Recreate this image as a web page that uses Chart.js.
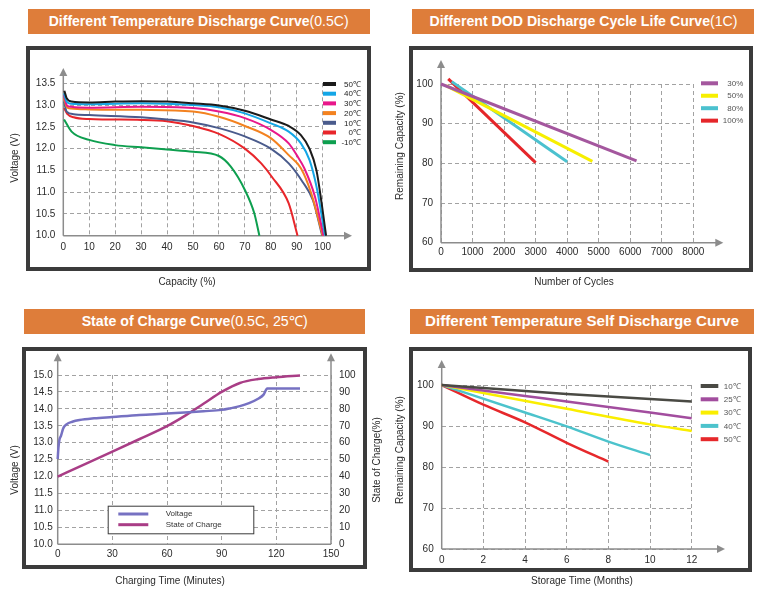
<!DOCTYPE html>
<html><head><meta charset="utf-8">
<script src="https://cdn.jsdelivr.net/npm/chart.js@4/dist/chart.umd.min.js"></script>
<style>
html,body{margin:0;padding:0;background:#fff;}
body{width:768px;height:599px;position:relative;overflow:hidden;font-family:"Liberation Sans",Arial,sans-serif;}
.bar{position:absolute;background:#de7d3a;color:#fff;font-weight:bold;font-size:14px;height:25px;line-height:25px;text-align:center;white-space:nowrap;overflow:hidden}
.bar span.t{display:inline-block;transform-origin:center center}
.bar span.n{font-weight:normal}
.frame{position:absolute;border:4px solid #3b3b3b;box-sizing:border-box;background:#fff}
.wrap{position:absolute}
.wrap canvas{display:block}
</style></head>
<body>
<div class="bar" style="left:28px;top:9px;width:342px" data-w="300"><span class="t">Different Temperature Discharge Curve<span class="n">(0.5C)</span></span></div>
<div class="bar" style="left:412px;top:9px;width:342px" data-w="308"><span class="t">Different DOD Discharge Cycle Life Curve<span class="n">(1C)</span></span></div>
<div class="bar" style="left:24px;top:309px;width:341px" data-w="226"><span class="t">State of Charge Curve<span class="n">(0.5C, 25℃)</span></span></div>
<div class="bar" style="left:410px;top:309px;width:344px" data-w="314"><span class="t">Different Temperature Self Discharge Curve</span></div>

<div class="frame" style="left:26px;top:46px;width:345px;height:225px"></div>
<div class="frame" style="left:409px;top:46px;width:344px;height:226px"></div>
<div class="frame" style="left:22px;top:347px;width:345px;height:222px"></div>
<div class="frame" style="left:409px;top:347px;width:343px;height:225px"></div>

<div class="wrap" style="left:0;top:40px;width:384px;height:260px"><canvas id="c1" width="384" height="260"></canvas></div>
<div class="wrap" style="left:384px;top:40px;width:384px;height:260px"><canvas id="c2" width="384" height="260"></canvas></div>
<div class="wrap" style="left:0;top:340px;width:384px;height:259px"><canvas id="c3" width="384" height="259"></canvas></div>
<div class="wrap" style="left:384px;top:340px;width:384px;height:259px"><canvas id="c4" width="384" height="259"></canvas></div>

<script>
// ---------- Panel 1: different temperature discharge (capacity %, voltage V)
const tempLabels1 = ['50℃','40℃','30℃','20℃','10℃','0℃','-10℃'];
const dis50 = [[0.4,13.33],[1.3,13.16],[3.2,13.08],[10,13.06],[20,13.08],[30,13.09],[40,13.08],[50,13.04],[60,12.99],[70,12.87],[80,12.67],[86.9,12.52],[91.6,12.31],[94.9,12.0],[97.6,11.5],[99.6,10.74],[101.3,10.0]];
const dis40 = [[0.3,13.27],[1.3,13.08],[3,13.03],[10,13.02],[30,13.04],[50,13.0],[60,12.95],[70,12.81],[80,12.58],[86.9,12.39],[91.6,12.12],[94.9,11.74],[97.6,11.13],[100.9,10.0]];
const dis30 = [[0.3,13.23],[1.3,13.0],[3,12.96],[10,12.94],[30,12.96],[50,12.93],[60,12.85],[70,12.7],[80,12.43],[86.9,12.12],[90,11.85],[92.9,11.55],[97,10.9],[100.3,10.0]];
const dis20 = [[0.3,13.16],[1.3,12.96],[3,12.92],[10,12.9],[30,12.89],[50,12.85],[60,12.73],[70,12.52],[80,12.24],[86.9,11.85],[91.6,11.55],[95.6,10.97],[100,10.0]];
const dis10 = [[0.3,13.08],[1.3,12.85],[4,12.79],[10,12.77],[30,12.72],[40,12.67],[50,12.6],[60,12.47],[70,12.28],[80,12.0],[86.9,11.66],[92.2,11.24],[96.2,10.82],[99.8,10.0]];
const dis0 = [[0.3,12.93],[1.5,12.8],[4,12.72],[10,12.68],[30,12.66],[40,12.63],[50,12.52],[60,12.34],[70,12.0],[76.3,11.66],[80.3,11.36],[86.9,10.74],[90.3,10.0]];
const disM10 = [[0.3,12.67],[3.2,12.39],[10,12.2],[20,12.08],[30,12.03],[40,11.98],[50,11.93],[60,11.83],[64.5,11.59],[70,11.05],[73.6,10.52],[75.6,10.0]];

// ---------- Panel 2: DOD cycle life (cycles, remaining capacity %)
const dodLabels = ['30%','50%','80%','100%'];
const dod30 = [[0,100],[6200,80.6]];
const dod50 = [[160,99.6],[4800,80.5]];
const dod80 = [[340,100.6],[4000,80.4]];
const dod100 = [[230,101.3],[3000,80.2]];

// ---------- Panel 3: state of charge (minutes, voltage V / SOC %)
const chgVoltage = [[0,12.52],[0.4,12.85],[1,13.1],[1.8,13.2],[3,13.42],[5,13.55],[8,13.62],[12,13.67],[20,13.72],[30,13.76],[45,13.82],[60,13.86],[72,13.9],[80,13.93],[90,13.97],[95,14.02],[100,14.08],[105,14.17],[110,14.3],[113,14.42],[115,14.6],[133,14.6]];
const chgSoc = [[0,40],[15,47.3],[30,54.7],[45,62.2],[60,69.8],[70,76],[80,83],[90,90],[100,95.3],[110,97.6],[120,98.7],[133,99.7]];

// ---------- Panel 4: self discharge (months, remaining capacity %)
const sdLabels = ['10℃','25℃','30℃','40℃','50℃'];
const sd10 = [[0,100],[6,97.8],[12,96.0]];
const sd25 = [[0,100],[4,97.3],[6,96.0],[12,91.9]];
const sd30 = [[0,100],[6,94.2],[10,90.4],[12,88.8]];
const sd40 = [[0,100],[4,93.3],[6,89.9],[8,86.2],[10,82.9]];
const sd50 = [[0,100],[2,95.2],[4,90.9],[6,85.9],[8,81.3]];

// ---------- title bars fitting
document.querySelectorAll('.bar').forEach(b=>{
  const s=b.querySelector('span.t'); const w=s.getBoundingClientRect().width;
  const tw=+b.dataset.w; s.style.transform='scaleX('+(tw/w).toFixed(3)+')';
});

Chart.defaults.font.family = "'Liberation Sans', Arial, Helvetica, sans-serif";
Chart.defaults.font.size = 10;
Chart.defaults.color = '#2b2b2b';

const AX = '#8c8c8c', GRID = '#a2a2a2';

function ds(label, pts, color, width, smooth, axis){
  const d = {label, data: pts.map(p=>({x:p[0],y:p[1]})), borderColor: color, backgroundColor: color,
    borderWidth: width, pointRadius: 0, fill: false, clip: false, tension: 0};
  if (smooth) d.cubicInterpolationMode = 'monotone';
  if (axis) d.yAxisID = axis;
  return d;
}
const plain = v => String(v);
function lin(min,max,step,pad,fit,title,fmt,extra){
  const s = {type:'linear', min, max,
    ticks:{stepSize:step, autoSkip:false, maxRotation:0, padding:pad, color:'#2b2b2b', font:{size:10}, callback: fmt || plain},
    grid:{color:GRID, lineWidth:1, drawTicks:false},
    border:{display:false, dash:[4,3]},
    title:{display:false, text:title},
    afterFit: fit};
  return Object.assign(s, extra||{});
}

function arrowUp(ctx,x,y){ctx.beginPath();ctx.moveTo(x,y);ctx.lineTo(x-4,y+8);ctx.lineTo(x+4,y+8);ctx.closePath();ctx.fill();}
function arrowRight(ctx,x,y){ctx.beginPath();ctx.moveTo(x,y);ctx.lineTo(x-8,y-4);ctx.lineTo(x-8,y+4);ctx.closePath();ctx.fill();}

const deco = {
  id:'deco',
  beforeDatasetsDraw(chart, args, o){
    const {ctx, chartArea:a} = chart;
    ctx.save();
    ctx.setLineDash([]);
    ctx.strokeStyle = AX; ctx.fillStyle = AX; ctx.lineWidth = 1.5;
    const L=a.left, B=a.bottom;
    ctx.beginPath(); ctx.moveTo(L,B); ctx.lineTo(L,a.top-o.yExt+7); ctx.stroke(); arrowUp(ctx,L,a.top-o.yExt);
    if (o.y2){ ctx.beginPath(); ctx.moveTo(a.right,B); ctx.lineTo(a.right,a.top-o.yExt+7); ctx.stroke(); arrowUp(ctx,a.right,a.top-o.yExt); }
    const xr = a.right + (o.xExt||0);
    ctx.beginPath(); ctx.moveTo(L,B); ctx.lineTo(o.xExt? xr-7 : xr, B); ctx.stroke();
    if (o.xExt) arrowRight(ctx,xr,B);
    ctx.restore();
  },
  afterDraw(chart, args, o){
    const {ctx} = chart;
    ctx.save();
    (o.titles||[]).forEach(t=>{
      const txt = chart.scales[t.scale].options.title.text;
      ctx.save(); ctx.translate(t.x,t.y); if (t.rot) ctx.rotate(t.rot);
      ctx.font = "10px 'Liberation Sans', Arial, sans-serif"; ctx.fillStyle = '#2b2b2b';
      ctx.textAlign='center'; ctx.textBaseline='middle'; ctx.fillText(txt,0,0); ctx.restore();
    });
    const lg = o.legend;
    if (lg && lg.type==='side'){
      ctx.font = "8px 'Liberation Sans', Arial, sans-serif"; ctx.textBaseline='middle'; ctx.textAlign='right';
      chart.data.datasets.forEach((d,i)=>{
        const y = lg.y0 + i*lg.dy;
        ctx.fillStyle = d.borderColor; ctx.fillRect(lg.sx, y-lg.sh/2, lg.sw, lg.sh);
        ctx.fillStyle = lg.color; ctx.fillText(d.label, lg.tx, y+0.5);
      });
    } else if (lg && lg.type==='box'){
      ctx.fillStyle='#fff'; ctx.fillRect(lg.x,lg.y,lg.w,lg.h);
      ctx.strokeStyle='#3a3a3a'; ctx.lineWidth=1; ctx.strokeRect(lg.x+0.5,lg.y+0.5,lg.w,lg.h);
      ctx.font = "8px 'Liberation Sans', Arial, sans-serif"; ctx.textBaseline='middle'; ctx.textAlign='left';
      chart.data.datasets.forEach((d,i)=>{
        const y = lg.ly[i];
        ctx.strokeStyle = d.borderColor; ctx.lineWidth = 3; ctx.beginPath(); ctx.moveTo(lg.lx0,y); ctx.lineTo(lg.lx1,y); ctx.stroke();
        ctx.fillStyle='#333'; ctx.fillText(d.label, lg.tx, y);
      });
    }
    ctx.restore();
  }
};

const base = {responsive:false, animation:false, devicePixelRatio:1, events:[]};

// Chart 1
new Chart(document.getElementById('c1'), {
  type:'line',
  data:{datasets:[
    ds(tempLabels1[0],dis50,'#1b1b1b',2,true),
    ds(tempLabels1[1],dis40,'#14a6e6',2,true),
    ds(tempLabels1[2],dis30,'#e8178a',2,true),
    ds(tempLabels1[3],dis20,'#f38220',2,true),
    ds(tempLabels1[4],dis10,'#4a5b8c',2,true),
    ds(tempLabels1[5],dis0,'#e8262b',2,true),
    ds(tempLabels1[6],disM10,'#0e9f4f',2,true)
  ]},
  options:Object.assign({}, base, {
    layout:{padding:{left:0,top:43.3,right:61.3,bottom:0}},
    plugins:{legend:{display:false},tooltip:{enabled:false},
      deco:{xExt:29.3,yExt:15.3,
        titles:[{scale:'x',x:187,y:242},{scale:'y',x:15,y:118,rot:-Math.PI/2}],
        legend:{type:'side',sx:323,sw:13,sh:4,y0:44,dy:9.7,tx:361,color:'#222'}}},
    scales:{
      x: lin(0,100,10,6,s=>{s.height=64.3},'Capacity (%)'),
      y: lin(10,13.5,0.5,8,s=>{s.width=63.3},'Voltage (V)',v=>v.toFixed(1))
    }
  }),
  plugins:[deco]
});

// Chart 2
new Chart(document.getElementById('c2'), {
  type:'line',
  data:{datasets:[
    ds(dodLabels[0],dod30,'#a4579e',3,false),
    ds(dodLabels[1],dod50,'#f7ef00',3,false),
    ds(dodLabels[2],dod80,'#4bc1cf',3,false),
    ds(dodLabels[3],dod100,'#e5262a',3,false)
  ]},
  options:Object.assign({}, base, {
    layout:{padding:{left:0,top:44,right:74.7,bottom:0}},
    plugins:{legend:{display:false},tooltip:{enabled:false},
      deco:{xExt:30,yExt:24,
        titles:[{scale:'x',x:190,y:242},{scale:'y',x:16,y:106,rot:-Math.PI/2}],
        legend:{type:'side',sx:317,sw:17,sh:4,y0:43.3,dy:12.45,tx:359.3,color:'#555'}}},
    scales:{
      x: lin(0,8000,1000,4,s=>{s.height=57.3},'Number of Cycles'),
      y: lin(60,100,10,8,s=>{s.width=57},'Remaining Capacity (%)')
    }
  }),
  plugins:[deco]
});

// Chart 3
new Chart(document.getElementById('c3'), {
  type:'line',
  data:{datasets:[
    ds('Voltage',chgVoltage,'#7671c2',2.5,true,'y'),
    ds('State of Charge',chgSoc,'#a93d86',2.5,true,'y2')
  ]},
  options:Object.assign({}, base, {
    layout:{padding:{left:0,top:35,right:0,bottom:0}},
    plugins:{legend:{display:false},tooltip:{enabled:false},
      deco:{xExt:0,yExt:21.7,y2:true,
        titles:[{scale:'x',x:170,y:241},{scale:'y',x:15,y:130,rot:-Math.PI/2},{scale:'y2',x:377,y:120,rot:-Math.PI/2}],
        legend:{type:'box',x:107.7,y:165.7,w:145.6,h:27.6,lx0:118.3,lx1:148.3,ly:[174,184.7],tx:165.7}}},
    scales:{
      x: lin(0,150,30,4,s=>{s.height=54.7},'Charging Time (Minutes)'),
      y: lin(10,15,0.5,5,s=>{s.width=57.7},'Voltage (V)',v=>v.toFixed(1)),
      y2: lin(0,100,10,8,s=>{s.width=53},'State of Charge(%)',null,{position:'right',grid:{drawOnChartArea:false,drawTicks:false}})
    }
  }),
  plugins:[deco]
});

// Chart 4
new Chart(document.getElementById('c4'), {
  type:'line',
  data:{datasets:[
    ds(sdLabels[0],sd10,'#4a4a44',2.5,true),
    ds(sdLabels[1],sd25,'#a24d9e',2.5,true),
    ds(sdLabels[2],sd30,'#faee00',2.5,true),
    ds(sdLabels[3],sd40,'#4cc3cc',2.5,true),
    ds(sdLabels[4],sd50,'#e6282b',2.5,true)
  ]},
  options:Object.assign({}, base, {
    layout:{padding:{left:0,top:45,right:76.3,bottom:0}},
    plugins:{legend:{display:false},tooltip:{enabled:false},
      deco:{xExt:33.3,yExt:25,
        titles:[{scale:'x',x:198,y:241},{scale:'y',x:16,y:110,rot:-Math.PI/2}],
        legend:{type:'side',sx:316.7,sw:17.6,sh:4,y0:46,dy:13.3,tx:356.7,color:'#555'}}},
    scales:{
      x: lin(0,12,2,5,s=>{s.height=50},'Storage Time (Months)'),
      y: lin(60,100,10,8,s=>{s.width=57.7},'Remaining Capacity (%)')
    }
  }),
  plugins:[deco]
});
</script>
</body></html>
